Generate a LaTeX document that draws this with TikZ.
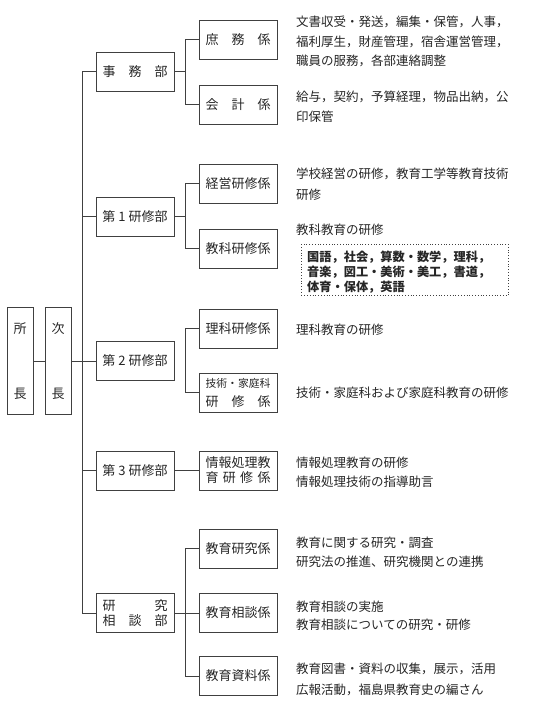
\documentclass[tikz,border=0pt]{standalone}
\usepackage{fontspec}
\newfontfamily\jp{Noto Sans CJK JP}
\definecolor{lc}{gray}{0.25}
\definecolor{tc}{gray}{0.15}
\begin{document}
\begin{tikzpicture}[x=1pt,y=-1pt]
\tikzset{
  ln/.style={draw=lc, line width=0.8pt},
  bx/.style={draw=lc, line width=0.8pt, minimum height=39pt, minimum width=78pt, inner sep=0pt,
    text=tc, font=\jp\fontsize{13}{15}\selectfont, align=center},
  head/.style={bx, minimum width=26pt, minimum height=107pt, font=\jp\fontsize{13}{65}\selectfont},
  desc/.style={anchor=base west, inner sep=0pt, text=tc, font=\jp\fontsize{12.5}{15}\selectfont},
  bdesc/.style={desc, font=\jp\bfseries\fontsize{12.2}{15}\selectfont},
  dotbox/.style={draw=lc, dotted, line width=0.8pt, anchor=north west, minimum width=207pt,
    minimum height=51pt, inner sep=0pt}
}
\useasboundingbox (0,0) rectangle (540,718);
\fill[white] (0,0) rectangle (540,718);

% heads
\node[head] (sho) at (20,361) {所\\長};
\node[head] (ji) at (58,361) {次\\長};

% departments
\node[bx] (jimu) at (135,71.5) {事　務　部};
\node[bx] (ken1) at (135,216.5) {第 1 研修部};
\node[bx] (ken2) at (135,361) {第 2 研修部};
\node[bx] (ken3) at (135,470.5) {第 3 研修部};
\node[bx] (soudan) at (135,613) {研　　　究\\相　談　部};

% sections
\node[bx] (shomu) at (238,39.5) {庶　務　係};
\node[bx] (kaikei) at (238,104.5) {会　計　係};
\node[bx] (keiei) at (238,183.5) {経営研修係};
\node[bx] (kyouka) at (238,248.5) {教科研修係};
\node[bx] (rika) at (238,328.5) {理科研修係};
\node[bx] (gijutsu) at (238,392.5) {{\fontsize{10.8}{13}\selectfont 技術・家庭科}\\[4pt]研　修　係};
\node[bx] (jouhou) at (238,470.5) {情報処理教\\\makebox[65pt][s]{育\hfill 研\hfill 修\hfill 係}};
\node[bx] (kenkyu) at (238,548.5) {教育研究係};
\node[bx] (soudanka) at (238,613) {教育相談係};
\node[bx] (shiryou) at (238,676) {教育資料係};

% connectors
\draw[ln] (sho) -- (ji);
\draw[ln] (ji) -- (ken2);
\draw[ln] (jimu.west) -- ++(-13,0) |- (soudan.west);
\draw[ln] (ken1.west) -- ++(-13,0);
\draw[ln] (ken3.west) -- ++(-13,0);

\draw[ln] (shomu.west) -- ++(-13,0) |- (kaikei.west);
\draw[ln] (jimu.east) -- ++(12,0);
\draw[ln] (keiei.west) -- ++(-13,0) |- (kyouka.west);
\draw[ln] (ken1.east) -- ++(12,0);
\draw[ln] (rika.west) -- ++(-13,0) |- (gijutsu.west);
\draw[ln] (ken3) -- (jouhou);
\draw[ln] (kenkyu.west) -- ++(-13,0) |- (shiryou.west);
\draw[ln] (soudan) -- (soudanka);

% descriptions
\node[desc] (a1) at (296,26.5) {文書収受・発送，編集・保管，人事，};
\node[desc] (a2) at (296,46.5) {福利厚生，財産管理，宿舎運営管理，};
\node[desc] (a3) at (296,65.8) {職員の服務，各部連絡調整};
\node[desc] (b1) at (296,101.8) {給与，契約，予算経理，物品出納，公};
\node[desc] (b2) at (296,121.8) {印保管};
\node[desc] (c1) at (296,178.8) {学校経営の研修，教育工学等教育技術};
\node[desc] (c2) at (296,199.8) {研修};
\node[desc] (d1) at (296,234.8) {教科教育の研修};
\node[dotbox] (kbox) at (301,244) {};
\node[bdesc] (e1) at (307,261.6) {国語，社会，算数・数学，理科，};
\node[bdesc] (e2) at (307,276.6) {音楽，図工・美術・美工，書道，};
\node[bdesc] (e3) at (307,291.6) {体育・保体，英語};
\node[desc] (f1) at (296,334.8) {理科教育の研修};
\node[desc] (g1) at (296,397.8) {技術・家庭科および家庭科教育の研修};
\node[desc] (h1) at (296,467.8) {情報処理教育の研修};
\node[desc] (h2) at (296,486.8) {情報処理技術の指導助言};
\node[desc] (i1) at (296,547.8) {教育に関する研究・調査};
\node[desc] (i2) at (296,566.8) {研究法の推進、研究機関との連携};
\node[desc] (j1) at (296,611.8) {教育相談の実施};
\node[desc] (j2) at (296,629.8) {教育相談についての研究・研修};
\node[desc] (k1) at (296,673.8) {教育図書・資料の収集，展示，活用};
\node[desc] (k2) at (296,694.8) {広報活動，福島県教育史の編さん};
\end{tikzpicture}
\end{document}
